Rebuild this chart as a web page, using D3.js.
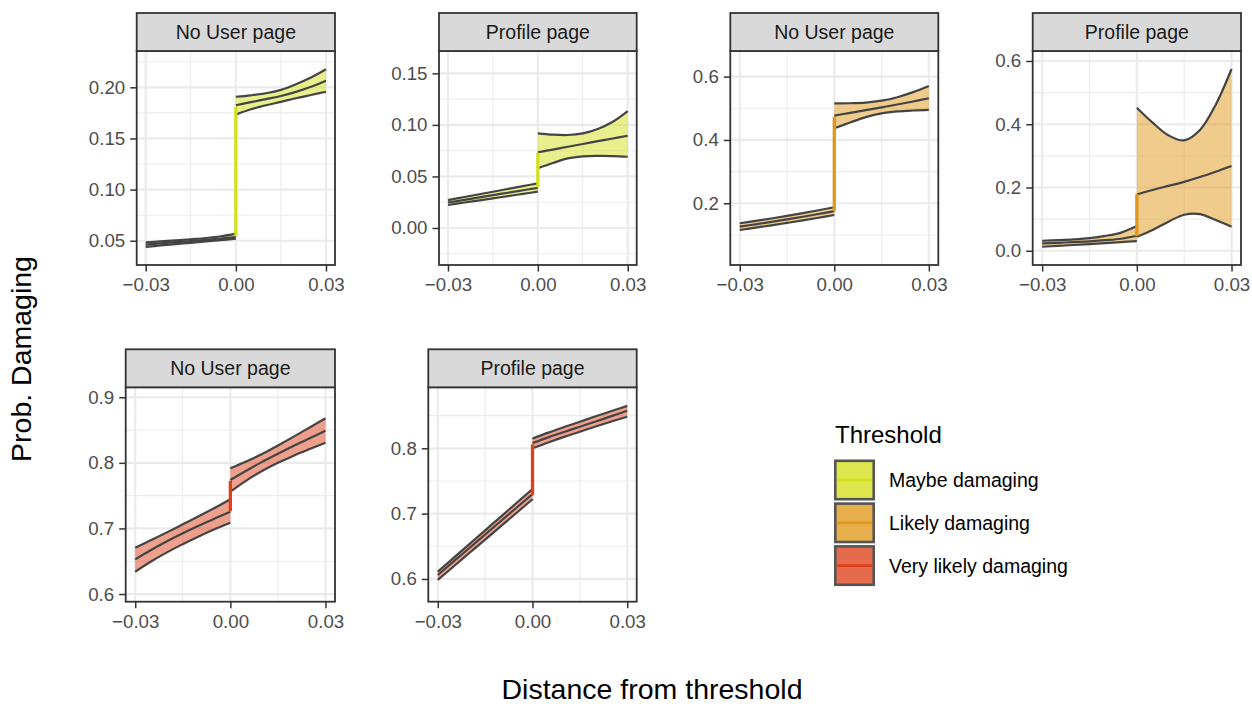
<!DOCTYPE html>
<html>
<head>
<meta charset="utf-8">
<script src="https://cdn.jsdelivr.net/npm/d3@7"></script>
<style>
  body { margin: 0; background: #fff; }
  svg { display: block; font-family: "Liberation Sans", Arial, sans-serif; }
</style>
</head>
<body>
<script>
// categories
var thresholds = ["Maybe damaging", "Likely damaging", "Very likely damaging"];
var thresholdColors = ["#d4e01b", "#e0981a", "#de4119"];
var pages = ["No User page", "Profile page"];

// x grid of the fitted curves, either side of the threshold
var xLeft = [-0.03, -0.025, -0.02, -0.015, -0.01, -0.005, 0];
var xRight = [0, 0.005, 0.01, 0.015, 0.02, 0.025, 0.03];
var xTicks = [-0.03, 0, 0.03];
var xDomain = [-0.033, 0.033];

// each row: [lower, fit, upper]
var maybeNoUserLeft = [[0.0440, 0.0462, 0.0484], [0.0454, 0.0474, 0.0494], [0.0467, 0.0486, 0.0504], [0.0480, 0.0497, 0.0515], [0.0493, 0.0509, 0.0527], [0.0506, 0.0522, 0.0544], [0.0520, 0.0536, 0.0570]];
var maybeNoUserRight = [[0.1733, 0.1825, 0.1908], [0.1785, 0.1855, 0.1922], [0.1825, 0.1885, 0.1942], [0.1858, 0.1915, 0.1975], [0.1893, 0.1955, 0.2030], [0.1925, 0.2005, 0.2095], [0.1957, 0.2065, 0.2176]];
var maybeNoUserJump = [0.0549, 0.181];

var maybeProfileLeft = [[0.0223, 0.0247, 0.0271], [0.0245, 0.0271, 0.0298], [0.0266, 0.0295, 0.0325], [0.0288, 0.0319, 0.0352], [0.0309, 0.0342, 0.0379], [0.0331, 0.0366, 0.0406], [0.0352, 0.0390, 0.0433]];
var maybeProfileRight = [[0.0579, 0.0734, 0.0918], [0.0630, 0.0761, 0.0905], [0.0675, 0.0788, 0.0902], [0.0695, 0.0815, 0.0918], [0.0700, 0.0842, 0.0960], [0.0698, 0.0868, 0.1030], [0.0691, 0.0895, 0.1134]];
var maybeProfileJump = [0.0395, 0.073];

var likelyNoUserLeft = [[0.1156, 0.1262, 0.1368], [0.1228, 0.1335, 0.1442], [0.1302, 0.1412, 0.1520], [0.1380, 0.1492, 0.1603], [0.1460, 0.1575, 0.1690], [0.1543, 0.1660, 0.1780], [0.1630, 0.1750, 0.1874]];
var likelyNoUserRight = [[0.4370, 0.4768, 0.5155], [0.4550, 0.4855, 0.5160], [0.4720, 0.4940, 0.5180], [0.4840, 0.5030, 0.5240], [0.4900, 0.5120, 0.5350], [0.4930, 0.5215, 0.5510], [0.4948, 0.5318, 0.5706]];
var likelyNoUserJump = [0.1757, 0.4736];

var likelyProfileLeft = [[0.0127, 0.0232, 0.0316], [0.0155, 0.0252, 0.0335], [0.0183, 0.0274, 0.0360], [0.0212, 0.0300, 0.0400], [0.0242, 0.0334, 0.0470], [0.0273, 0.0380, 0.0575], [0.0307, 0.0474, 0.0780]];
var likelyProfileRight = [[0.0443, 0.178, 0.4523], [0.066, 0.192, 0.405], [0.092, 0.205, 0.365], [0.114, 0.218, 0.349], [0.116, 0.233, 0.382], [0.097, 0.250, 0.462], [0.076, 0.268, 0.5747]];
var likelyProfileJump = [0.0465, 0.179];

var veryNoUserLeft = [[0.6340, 0.6529, 0.6706], [0.6495, 0.6672, 0.6822], [0.6635, 0.6805, 0.6940], [0.6760, 0.6928, 0.7063], [0.6878, 0.7042, 0.7185], [0.6988, 0.7150, 0.7312], [0.7088, 0.7255, 0.7444]];
var veryNoUserRight = [[0.7560, 0.7739, 0.7917], [0.7730, 0.7880, 0.8020], [0.7875, 0.8015, 0.8135], [0.8000, 0.8140, 0.8265], [0.8110, 0.8260, 0.8400], [0.8210, 0.8375, 0.8540], [0.8307, 0.8490, 0.8680]];
var veryNoUserJump = [0.7266, 0.7723];

var veryProfileLeft = [[0.5985, 0.6061, 0.6112], [0.6191, 0.6268, 0.6323], [0.6397, 0.6474, 0.6534], [0.6603, 0.6681, 0.6745], [0.6808, 0.6887, 0.6955], [0.7014, 0.7094, 0.7166], [0.7220, 0.7300, 0.7377]];
var veryProfileRight = [[0.8000, 0.8081, 0.8148], [0.8090, 0.8168, 0.8240], [0.8175, 0.8250, 0.8325], [0.8254, 0.8330, 0.8407], [0.8333, 0.8410, 0.8490], [0.8410, 0.8493, 0.8570], [0.8483, 0.8574, 0.8650]];
var veryProfileJump = [0.7285, 0.806];

// y axis ranges and ticks per panel
var yDomains = [[0.0263, 0.2355], [-0.0359, 0.1717], [0.005, 0.681], [-0.045, 0.6316], [0.5883, 0.9152], [0.5652, 0.8934]];
var yTickValues = [[0.05, 0.10, 0.15, 0.20], [0.00, 0.05, 0.10, 0.15], [0.2, 0.4, 0.6], [0.0, 0.2, 0.4, 0.6], [0.6, 0.7, 0.8, 0.9], [0.6, 0.7, 0.8]];
var yFormats = [".2f", ".2f", ".1f", ".1f", ".1f", ".1f"];

// panel boxes [left, top, right, bottom]
var boxes = [[136.7, 51, 335, 265], [439, 51, 636.7, 265], [730.3, 51, 938.3, 265], [1032.7, 51, 1241, 265],
             [125.7, 387.3, 335, 601.7], [428.3, 387.3, 636.7, 601.7]];

var panels = [
  { t: 0, p: 0, left: maybeNoUserLeft, right: maybeNoUserRight, jump: maybeNoUserJump },
  { t: 0, p: 1, left: maybeProfileLeft, right: maybeProfileRight, jump: maybeProfileJump },
  { t: 1, p: 0, left: likelyNoUserLeft, right: likelyNoUserRight, jump: likelyNoUserJump },
  { t: 1, p: 1, left: likelyProfileLeft, right: likelyProfileRight, jump: likelyProfileJump },
  { t: 2, p: 0, left: veryNoUserLeft, right: veryNoUserRight, jump: veryNoUserJump },
  { t: 2, p: 1, left: veryProfileLeft, right: veryProfileRight, jump: veryProfileJump }
];

var W = 1252, H = 706;
var svg = d3.select("body").append("svg").attr("width", W).attr("height", H);
svg.append("rect").attr("width", W).attr("height", H).attr("fill", "#fff");

var tickFont = 18.7, stripFont = 19.5;
var lineCol = "#444444";

panels.forEach(function (d, i) {
  var b = boxes[i];
  var x = d3.scaleLinear().domain(xDomain).range([b[0], b[2]]);
  var y = d3.scaleLinear().domain(yDomains[i]).range([b[3], b[1]]);
  var g = svg.append("g");
  var col = thresholdColors[d.t];

  // grid
  var yt = yTickValues[i], step = yt[1] - yt[0], yDom = yDomains[i];
  var yMinor = [];
  for (var k = -1; k < yt.length; k++) {
    var v = yt[0] + (k + 0.5) * step;
    if (v > yDom[0] && v < yDom[1]) yMinor.push(v);
  }
  var xMinor = [-0.015, 0.015];
  g.selectAll(".ymin").data(yMinor).enter().append("line")
    .attr("x1", b[0]).attr("x2", b[2]).attr("y1", y).attr("y2", y)
    .attr("stroke", "#ebebeb").attr("stroke-width", 1.1);
  g.selectAll(".xmin").data(xMinor).enter().append("line")
    .attr("y1", b[1]).attr("y2", b[3]).attr("x1", x).attr("x2", x)
    .attr("stroke", "#ebebeb").attr("stroke-width", 1.1);
  g.selectAll(".ymaj").data(yt).enter().append("line")
    .attr("x1", b[0]).attr("x2", b[2]).attr("y1", y).attr("y2", y)
    .attr("stroke", "#ebebeb").attr("stroke-width", 2.2);
  g.selectAll(".xmaj").data(xTicks).enter().append("line")
    .attr("y1", b[1]).attr("y2", b[3]).attr("x1", x).attr("x2", x)
    .attr("stroke", "#ebebeb").attr("stroke-width", 2.2);

  var curve = d3.curveCatmullRom.alpha(0.5);
  [[xLeft, d.left], [xRight, d.right]].forEach(function (side) {
    var xs = side[0], rows = side[1];
    var pts = rows.map(function (r, j) { return { x: xs[j], lo: r[0], fit: r[1], hi: r[2] }; });
    var area = d3.area().curve(curve)
      .x(function (q) { return x(q.x); })
      .y0(function (q) { return y(q.lo); })
      .y1(function (q) { return y(q.hi); });
    g.append("path").attr("d", area(pts)).attr("fill", col).attr("fill-opacity", 0.5);
    ["lo", "hi", "fit"].forEach(function (key) {
      var ln = d3.line().curve(curve)
        .x(function (q) { return x(q.x); })
        .y(function (q) { return y(q[key]); });
      g.append("path").attr("d", ln(pts)).attr("fill", "none")
        .attr("stroke", lineCol).attr("stroke-width", 2.2);
    });
  });

  // discontinuity at the threshold
  g.append("line")
    .attr("x1", x(0)).attr("x2", x(0))
    .attr("y1", y(d.jump[0])).attr("y2", y(d.jump[1]))
    .attr("stroke", col).attr("stroke-width", 3.3);

  // axes
  var ax = g.append("g").attr("transform", "translate(0," + b[3] + ")")
    .call(d3.axisBottom(x).tickValues(xTicks).tickFormat(d3.format(".2f")).tickSize(6.5).tickPadding(6.5));
  var ay = g.append("g").attr("transform", "translate(" + b[0] + ",0)")
    .call(d3.axisLeft(y).tickValues(yt).tickFormat(d3.format(yFormats[i])).tickSize(6.5).tickPadding(5));
  [ax, ay].forEach(function (a) {
    a.select(".domain").remove();
    a.selectAll("line").attr("stroke", "#333333").attr("stroke-width", 1.5);
    a.selectAll("text").attr("fill", "#4d4d4d").style("font-size", tickFont + "px")
      .style("font-family", "'Liberation Sans', Arial, sans-serif");
  });

  // panel border
  g.append("rect").attr("x", b[0]).attr("y", b[1]).attr("width", b[2] - b[0]).attr("height", b[3] - b[1])
    .attr("fill", "none").attr("stroke", "#333333").attr("stroke-width", 1.8);

  // strip
  g.append("rect").attr("x", b[0]).attr("y", b[1] - 38).attr("width", b[2] - b[0]).attr("height", 38)
    .attr("fill", "#d9d9d9").attr("stroke", "#333333").attr("stroke-width", 1.8);
  g.append("text").attr("x", (b[0] + b[2]) / 2).attr("y", b[1] - 19 + 0.358 * stripFont)
    .attr("text-anchor", "middle").attr("fill", "#1a1a1a").style("font-size", stripFont + "px")
    .text(pages[d.p]);
});

// axis titles
svg.append("text").attr("x", 652).attr("y", 699).attr("text-anchor", "middle")
  .style("font-size", "28.5px").attr("fill", "#000").text("Distance from threshold");
svg.append("text").attr("transform", "translate(31,359) rotate(-90)").attr("text-anchor", "middle")
  .style("font-size", "28.5px").attr("fill", "#000").text("Prob. Damaging");

// legend
var lg = svg.append("g");
lg.append("text").attr("x", 835).attr("y", 443.3).style("font-size", "24px").attr("fill", "#000").text("Threshold");
var keys = lg.selectAll(".key").data(thresholds).enter().append("g")
  .attr("transform", function (d, i) { return "translate(834," + (459.5 + i * 42.8) + ")"; });
keys.append("rect").attr("x", 1.3).attr("y", 1.3).attr("width", 38.4).attr("height", 38.4)
  .attr("fill", function (d, i) { return thresholdColors[i]; }).attr("fill-opacity", 0.78);
keys.append("rect").attr("x", 1.3).attr("y", 1.3).attr("width", 38.4).attr("height", 38.4)
  .attr("fill", "none").attr("stroke", "#555555").attr("stroke-width", 2.6);
keys.append("line").attr("x1", 3).attr("x2", 38).attr("y1", 20.5).attr("y2", 20.5)
  .attr("stroke", function (d, i) { return thresholdColors[i]; }).attr("stroke-width", 2.8);
keys.append("text").attr("x", 55).attr("y", 20.5 + 0.358 * 19.5).style("font-size", "19.5px")
  .attr("fill", "#000").text(function (d) { return d; });
</script>
</body>
</html>
